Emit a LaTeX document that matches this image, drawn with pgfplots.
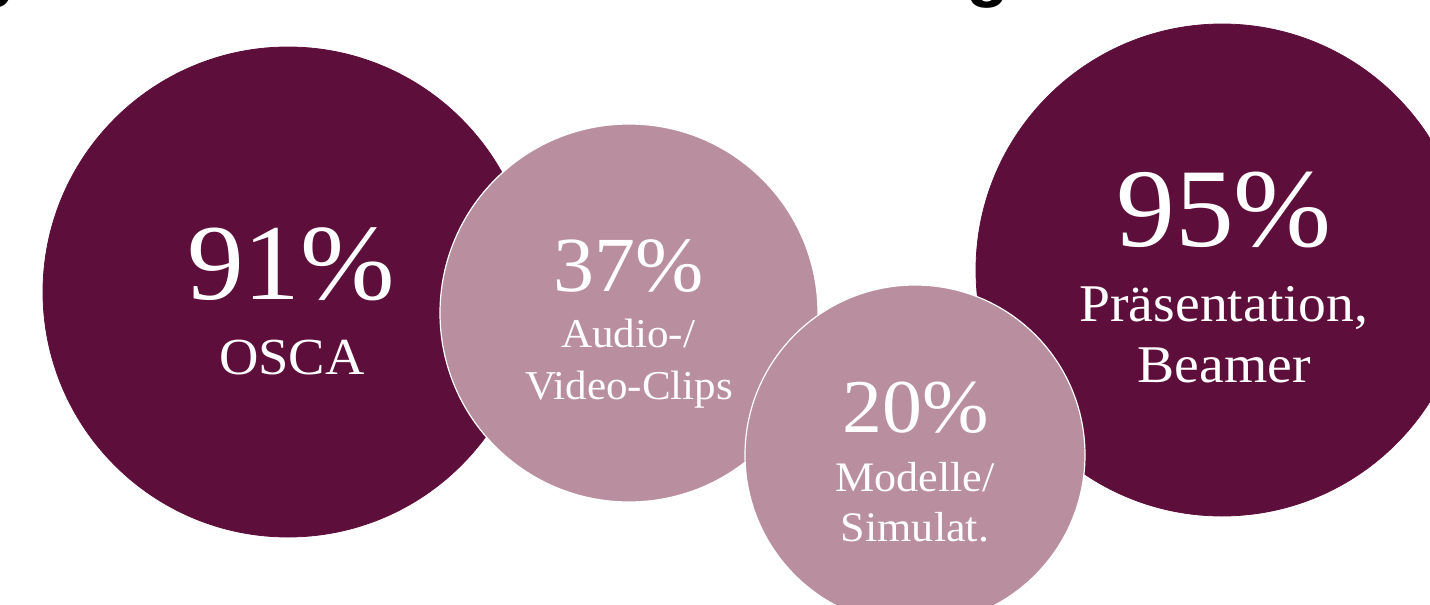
\documentclass[border=0pt]{standalone}
\usepackage{pgfplots}
\pgfplotsset{compat=1.18}
\usepackage{fontspec}
\setmainfont{Liberation Serif}[FakeStretch=1.05]
\newfontfamily\titlefont{Liberation Sans}

\definecolor{weinrot}{RGB}{94,14,58}
\definecolor{altrosa}{RGB}{185,143,160}

% 1 px of the reference = 0.5pt
\begin{document}
\begin{tikzpicture}
\path[use as bounding box] (0,0) rectangle (715pt,302.5pt);
\clip (0,0) rectangle (715pt,302.5pt);
\begin{axis}[
    at={(0,0)}, anchor=south west,
    width=715pt, height=302.5pt,
    scale only axis,
    xmin=0, xmax=1430,
    ymin=0, ymax=605,
    y dir=reverse,
    hide axis,
    clip=false,
]
% circles: centre in px, radius as mark size
\addplot[only marks, mark=*, mark size=122.5pt, mark options={fill=weinrot, draw=weinrot}]
    coordinates {(288,292)};
\addplot[only marks, mark=*, mark size=123pt, mark options={fill=weinrot, draw=weinrot}]
    coordinates {(1222,270)};
\addplot[only marks, mark=*, mark size=94.5pt, mark options={fill=altrosa, draw=white, line width=0.6pt}]
    coordinates {(629,313)};
\addplot[only marks, mark=*, mark size=85pt, mark options={fill=altrosa, draw=white, line width=0.6pt}]
    coordinates {(915,455)};

% text baselines, used after the axis so the text sits on top
\coordinate (t1)  at (axis cs:-6,-6);
\coordinate (t2)  at (axis cs:988,-6);
\coordinate (a1)  at (axis cs:291,300);
\coordinate (a2)  at (axis cs:292,375);
\coordinate (b1)  at (axis cs:629,292);
\coordinate (b2)  at (axis cs:628,348);
\coordinate (b3)  at (axis cs:629,400);
\coordinate (c1)  at (axis cs:916,433);
\coordinate (c2)  at (axis cs:915,492);
\coordinate (c3)  at (axis cs:915,542);
\coordinate (d1)  at (axis cs:1224,247);
\coordinate (d2)  at (axis cs:1224,322);
\coordinate (d3)  at (axis cs:1224,383);
\end{axis}

% cut-off title above
\node[anchor=base, font=\titlefont\bfseries\fontsize{35}{40}\selectfont] at (t1) {g};
\node[anchor=base, font=\titlefont\bfseries\fontsize{35}{40}\selectfont] at (t2) {g};

\begin{scope}[every node/.style={anchor=base, text=white, inner sep=0pt}]
\node[font=\fontsize{54}{60}\selectfont] at (a1) {91\%};
\node[font=\fontsize{26}{30}\selectfont] at (a2) {OSCA};

\node[font=\fontsize{39}{44}\selectfont] at (b1) {37\%};
\node[font=\fontsize{20.5}{24}\selectfont] at (b2) {Audio-/};
\node[font=\fontsize{20.5}{24}\selectfont] at (b3) {Video-Clips};

\node[font=\fontsize{38}{44}\selectfont] at (c1) {20\%};
\node[font=\fontsize{21}{24}\selectfont] at (c2) {Modelle/};
\node[font=\fontsize{21}{24}\selectfont] at (c3) {Simulat.};

\node[font=\fontsize{56}{62}\selectfont] at (d1) {95\%};
\node[font=\fontsize{26.5}{30}\selectfont] at (d2) {Präsentation,};
\node[font=\fontsize{26.5}{30}\selectfont] at (d3) {Beamer};
\end{scope}
\end{tikzpicture}
\end{document}
